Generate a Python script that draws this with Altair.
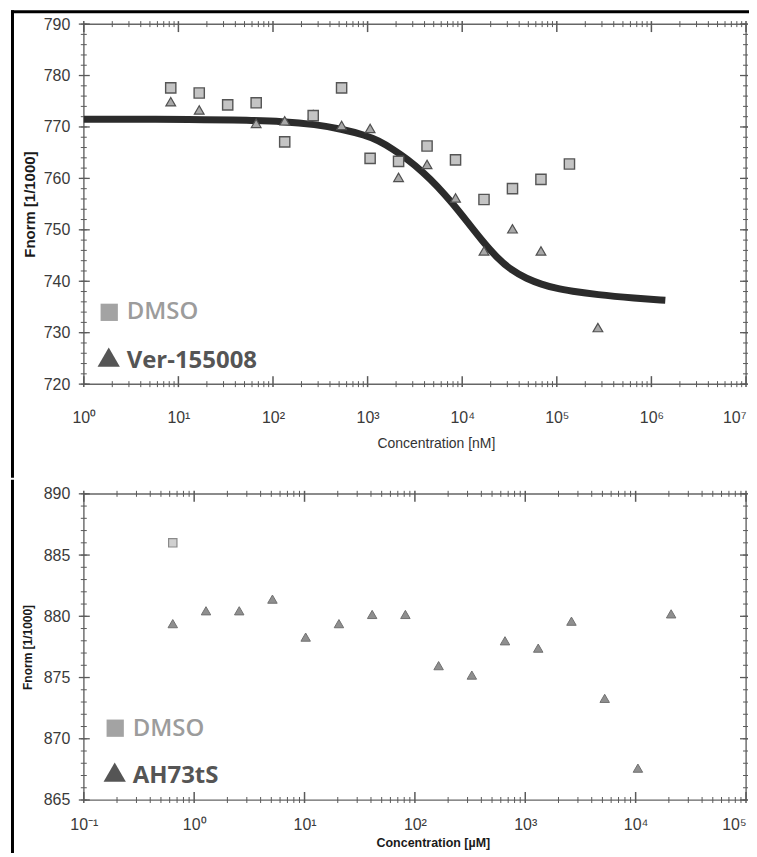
import altair as alt
import pandas as pd

# ---------------- top panel (Ver-155008) ----------------
top_dmso_conc = [8.3, 16.6, 33.2, 66.4, 133, 266, 531, 1063, 2125, 4250, 8500, 17000, 34000, 68000, 136000]
top_dmso_val = [777.6, 776.6, 774.3, 774.7, 767.1, 772.2, 777.6, 763.9, 763.3, 766.3, 763.6, 755.9, 758.0, 759.8, 762.8]
top_ver_conc = [8.3, 16.6, 66.4, 133, 266, 531, 1063, 2125, 4250, 8500, 17000, 34000, 68000, 272000]
top_ver_val = [774.9, 773.3, 770.7, 771.2, 772.4, 770.3, 769.7, 760.2, 762.7, 756.2, 745.9, 750.2, 745.9, 731.0]
fit_conc = [1, 16.8, 56.1, 124, 282, 528, 942, 1288, 1849, 2655, 3811, 5470, 7852, 11272, 16180, 23230,
            33420, 47970, 68870, 98850, 141900, 259400, 679200, 1403000]
fit_val = [771.5, 771.5, 771.3, 771.1, 770.5, 769.6, 768.4, 767.4, 765.7, 763.7, 761.3, 758.5, 755.2, 751.6,
           747.9, 744.6, 742.1, 740.5, 739.4, 738.6, 738.1, 737.4, 736.7, 736.3]
top_x_labels = [1, 10, 100, 1000, 10000, 100000, 1000000, 10000000]
top_y_labels = [720, 730, 740, 750, 760, 770, 780, 790]

# ---------------- bottom panel (AH73tS) ----------------
bot_ah_conc = [0.64, 1.28, 2.56, 5.12, 10.24, 20.5, 41, 82, 164, 328, 655, 1310, 2621, 5243, 10486, 20972]
bot_ah_val = [879.4, 880.45, 880.45, 881.4, 878.3, 879.4, 880.15, 880.15, 875.97, 875.2, 878.0, 877.4, 879.6, 873.3, 867.6, 880.2]
bot_dmso_conc = [0.64]
bot_dmso_val = [886.0]
bot_x_labels = [0.1, 1, 10, 100, 1000, 10000, 100000]
bot_y_labels = [865, 870, 875, 880, 885, 890]

SANS = "Liberation Sans, Arial, sans-serif"
LEG = "Open Sans, Noto Sans, sans-serif"
AXC = "#5a5a5a"


def df(xs=None, ys=None):
    d = {}
    if xs is not None:
        d["x"] = xs
    if ys is not None:
        d["y"] = ys
    return pd.DataFrame(d)


def minor_decades(k0, k1):
    return [m * 10.0 ** k for k in range(k0, k1) for m in range(2, 10)]


def panel(W, H, xdom, ydom, xaxis, yaxis, ymin_step, ymaj, xmaj, xmin, series, legend, frame):
    xs = alt.Scale(type="log", domain=xdom, nice=False)
    ys = alt.Scale(domain=ydom, nice=False, zero=False)
    X = alt.X("x:Q", scale=xs, axis=xaxis)
    Y = alt.Y("y:Q", scale=ys, axis=yaxis)
    layers = []
    yminor = df(ys=ymin_step)
    ymajor = df(ys=ymaj)
    layers.append(alt.Chart(yminor).mark_rule(color=AXC, strokeWidth=1).encode(y=Y, x=alt.value(-3), x2=alt.value(3)))
    layers.append(alt.Chart(yminor).mark_rule(color=AXC, strokeWidth=1).encode(y=Y, x=alt.value(W - 3), x2=alt.value(W + 2)))
    layers.append(alt.Chart(ymajor).mark_rule(color=AXC, strokeWidth=1.3).encode(y=Y, x=alt.value(-5), x2=alt.value(6)))
    layers.append(alt.Chart(ymajor).mark_rule(color=AXC, strokeWidth=1.3).encode(y=Y, x=alt.value(W - 6), x2=alt.value(W + 2)))
    xminor = df(xs=xmin)
    xmajor = df(xs=xmaj)
    layers.append(alt.Chart(xminor).mark_rule(color=AXC, strokeWidth=1).encode(x=X, y=alt.value(H - 3), y2=alt.value(H + 3)))
    layers.append(alt.Chart(xminor).mark_rule(color=AXC, strokeWidth=1).encode(x=X, y=alt.value(-3), y2=alt.value(3)))
    layers.append(alt.Chart(xmajor).mark_rule(color=AXC, strokeWidth=1.5).encode(x=X, y=alt.value(H - 8), y2=alt.value(H + 3)))
    layers.append(alt.Chart(xmajor).mark_rule(color=AXC, strokeWidth=1.5).encode(x=X, y=alt.value(-3), y2=alt.value(8)))
    for s in series:
        layers.append(s(X, Y))
    layers += legend
    layers += frame
    return alt.layer(*layers).properties(width=W, height=H)


def xlabel_expr():
    sups = ["\u207b\u00b9", "\u2070", "\u00b9", "\u00b2", "\u00b3", "\u2074", "\u2075", "\u2076", "\u2077"]
    arr = ",".join("'" + s + "'" for s in sups)
    return "'10' + [" + arr + "][round(log(datum.value)/LN10) + 1]"


def last_right(vmax):
    return {"condition": {"test": "datum.value >= %g" % (vmax * 0.99), "value": "right"}, "value": "center"}


def legend_layers(sq_xy, tri_xy, txt1_xy, txt2_xy, name2):
    one = pd.DataFrame({"t": ["DMSO"]})
    two = pd.DataFrame({"t": [name2]})
    return [
        alt.Chart(one).mark_point(shape="square", filled=True, size=300, color="#a3a3a3", opacity=1)
        .encode(x=alt.value(sq_xy[0]), y=alt.value(sq_xy[1])),
        alt.Chart(one).mark_point(shape="triangle-up", filled=True, size=500, color="#555555", opacity=1)
        .encode(x=alt.value(tri_xy[0]), y=alt.value(tri_xy[1])),
        alt.Chart(one).mark_text(align="left", baseline="alphabetic", font=LEG, fontSize=24, fontWeight=600, color="#9c9c9c")
        .encode(x=alt.value(txt1_xy[0]), y=alt.value(txt1_xy[1]), text="t:N"),
        alt.Chart(two).mark_text(align="left", baseline="alphabetic", font=LEG, fontSize=24, fontWeight=700, color="#555555")
        .encode(x=alt.value(txt2_xy[0]), y=alt.value(txt2_xy[1]), text="t:N"),
    ]


ONE = pd.DataFrame({"a": [0]})


def bar(x1, x2, y1, y2):
    # black frame line of the figure, drawn as a filled rect (no stroke)
    return alt.Chart(ONE).mark_rect(color="#000000", opacity=1).encode(
        x=alt.value(x1), x2=alt.value(x2), y=alt.value(y1), y2=alt.value(y2))


# ----- top panel -----
W1, H1 = 664, 361
top_xaxis = alt.Axis(values=top_x_labels, labelExpr=xlabel_expr(), title="Concentration [nM]", grid=False,
                     ticks=False, domain=False, labelFont=SANS, labelFontSize=16, labelColor="#3a3a3a",
                     labelPadding=25, labelFlush=False, labelOverlap=False, labelBound=False,
                     labelAlign=last_right(1e7),
                     titleFont=SANS, titleFontSize=14, titleFontWeight="normal", titleColor="#333333",
                     titlePadding=12, titleX=353, titleAlign="center")
top_yaxis = alt.Axis(values=top_y_labels, title="Fnorm [1/1000]", grid=False, ticks=False, domain=False,
                     labelFont=SANS, labelFontSize=16, labelColor="#3a3a3a", labelPadding=14,
                     titleFont=SANS, titleFontSize=15, titleFontWeight="bold", titleColor="#1a1a1a", titlePadding=6)

top_series = [
    lambda X, Y: alt.Chart(df(fit_conc, fit_val)).mark_line(color="#2b2b2b", strokeWidth=7, interpolate="basis", strokeCap="butt").encode(x=X, y=Y),
    lambda X, Y: alt.Chart(df(top_ver_conc, top_ver_val)).mark_point(shape="triangle-up", filled=True, size=95, fill="#a8a8a8", stroke="#505050", strokeWidth=1.2, opacity=1).encode(x=X, y=Y),
    lambda X, Y: alt.Chart(df(top_dmso_conc, top_dmso_val)).mark_point(shape="square", filled=True, size=105, fill="#c4c4c4", stroke="#555555", strokeWidth=1.4, opacity=1).encode(x=X, y=Y),
]
top_frame = [
    bar(-73, -70, -14, 455),
    bar(-73, W1 + 40, -14, -11),
]
top = panel(W1, H1, [1, 1e7], [720, 790], top_xaxis, top_yaxis,
            list(range(720, 791, 2)), top_y_labels, top_x_labels, minor_decades(0, 7), top_series,
            legend_layers((25.5, 289), (25, 334), (43, 296), (43, 345), "Ver-155008"), top_frame)

# ----- bottom panel -----
W2, H2 = 664, 307
bot_xaxis = alt.Axis(values=bot_x_labels, labelExpr=xlabel_expr(), title="Concentration [\u00b5M]", grid=False,
                     ticks=False, domain=False, labelFont=SANS, labelFontSize=16, labelColor="#3a3a3a",
                     labelPadding=17, labelFlush=False, labelOverlap=False, labelBound=False,
                     labelAlign=last_right(1e5),
                     titleFont=SANS, titleFontSize=12.5, titleFontWeight="bold", titleColor="#1a1a1a",
                     titlePadding=4, titleX=350, titleAlign="center")
bot_yaxis = alt.Axis(values=bot_y_labels, title="Fnorm [1/1000]", grid=False, ticks=False, domain=False,
                     labelFont=SANS, labelFontSize=16, labelColor="#3a3a3a", labelPadding=14,
                     titleFont=SANS, titleFontSize=12, titleFontWeight="bold", titleColor="#1a1a1a", titlePadding=9)
bot_series = [
    lambda X, Y: alt.Chart(df(bot_ah_conc, bot_ah_val)).mark_point(shape="triangle-up", filled=True, size=90, fill="#8f8f8f", stroke="#707070", strokeWidth=1, opacity=1).encode(x=X, y=Y),
    lambda X, Y: alt.Chart(df(bot_dmso_conc, bot_dmso_val)).mark_point(shape="square", filled=True, size=70, fill="#d0d0d0", stroke="#8a8a8a", strokeWidth=1.2, opacity=1).encode(x=X, y=Y),
]
bot_frame = [
    bar(-73, -70, -14, 370),
]
bottom = panel(W2, H2, [0.1, 1e5], [865, 890], bot_xaxis, bot_yaxis,
               list(range(865, 891, 1)), bot_y_labels, bot_x_labels, minor_decades(-1, 5), bot_series,
               legend_layers((31.5, 235), (31, 279), (49, 243), (49, 290), "AH73tS"), bot_frame)

chart = alt.vconcat(top, bottom, spacing=0).properties(
    padding={"left": 2, "top": 0, "right": -38, "bottom": -12}
).configure_view(stroke="#666666", strokeWidth=1.4)

chart.save("out.html", embed_options={"renderer": "svg", "actions": False})
